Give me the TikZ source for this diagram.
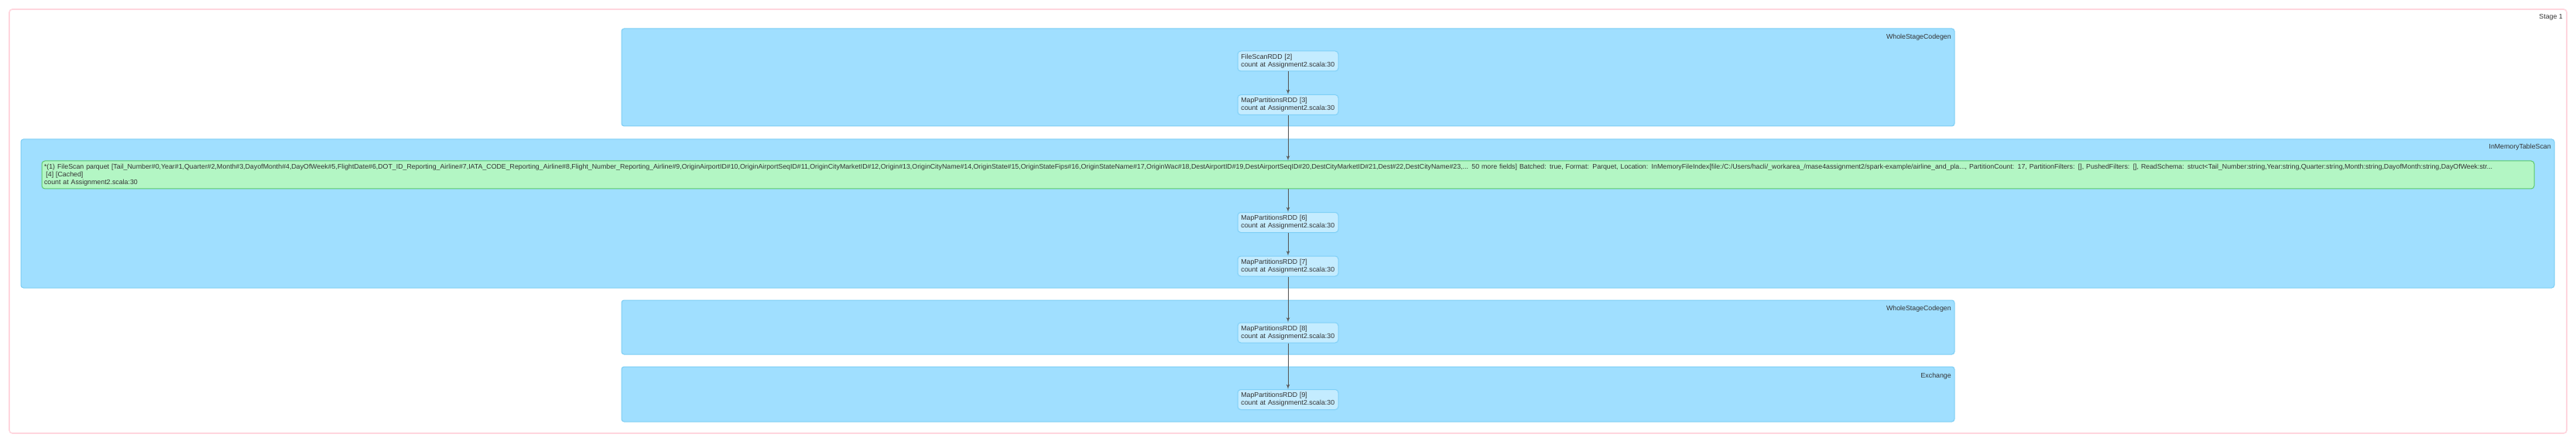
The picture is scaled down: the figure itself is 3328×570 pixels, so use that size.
\documentclass[tikz,border=0pt]{standalone}
\usepackage{fontspec}
\setmainfont{Liberation Sans}
\usetikzlibrary{positioning,arrows}

\definecolor{stageline}{HTML}{FFD6DE}
\definecolor{clusterfill}{HTML}{A0DFFF}
\definecolor{clusterline}{HTML}{7ECEF4}
\definecolor{rddfill}{HTML}{C4ECFF}
\definecolor{rddline}{HTML}{80D0F7}
\definecolor{cachedfill}{HTML}{B3F6C4}
\definecolor{cachedline}{HTML}{5DC86F}
\definecolor{labeltext}{HTML}{333333}

\begin{document}
\begin{tikzpicture}[x=0.75pt, y=-0.75pt]
		\tikzset{cluster/.style = {draw=clusterline, fill=clusterfill, line width=0.75pt, rounded corners=2.5pt}}
		\tikzset{boxlabel/.style = {anchor=east, inner sep=0pt, text=labeltext, font=\fontsize{6.6}{7.5}\selectfont}}
		\tikzset{rdd/.style = {draw=rddline, fill=rddfill, line width=0.75pt, rounded corners=3pt, text width=91pt, minimum height=19.5pt, inner xsep=3.25pt, inner ysep=0pt, align=left, text=labeltext, font=\fontsize{6.6}{7.5}\selectfont}}
		\tikzset{func/.style = {->, > = latex', draw=black!65, line width=0.6pt}}

		\useasboundingbox (0, 0) rectangle (3328, 570);

		% stage
		\draw[stageline, line width=1.2pt, rounded corners=3pt] (12, 12) rectangle (3316, 560);
		\node[boxlabel] (stage) at (3311, 22){Stage 1};

		% clusters
		\draw[cluster] (803, 37) rectangle (2525, 163);
		\node[boxlabel] (wsc1) at (2521, 48){WholeStageCodegen};

		\draw[cluster] (27, 180) rectangle (3300, 372);
		\node[boxlabel] (imts) at (3296, 190){InMemoryTableScan};

		\draw[cluster] (803, 388) rectangle (2525, 458);
		\node[boxlabel] (wsc2) at (2521, 399){WholeStageCodegen};

		\draw[cluster] (803, 474) rectangle (2525, 545);
		\node[boxlabel] (exch) at (2521, 486){Exchange};

		% rdds
		\node[rdd] (fs2) at (1664, 79){FileScanRDD [2]\\count at Assignment2.scala:30};
		\node[rdd] (mp3) at (1664, 135.5){MapPartitionsRDD [3]\\count at Assignment2.scala:30};

		\node[rdd, draw=cachedline, fill=cachedfill, text width=2410.5pt, inner xsep=2.25pt, minimum height=27pt] (scan4) at (1664, 226){\mbox{*(1) FileScan parquet [Tail\_Number\#0,Year\#1,Quarter\#2,Month\#3,DayofMonth\#4,DayOfWeek\#5,FlightDate\#6,DOT\_ID\_Reporting\_Airline\#7,IATA\_CODE\_Reporting\_Airline\#8,Flight\_Number\_Reporting\_Airline\#9,OriginAirportID\#10,OriginAirportSeqID\#11,OriginCityMarketID\#12,Origin\#13,OriginCityName\#14,OriginState\#15,OriginStateFips\#16,OriginStateName\#17,OriginWac\#18,DestAirportID\#19,DestAirportSeqID\#20,DestCityMarketID\#21,Dest\#22,DestCityName\#23,... 50 more fields] Batched: true, Format: Parquet, Location: InMemoryFileIndex[file:/C:/Users/hacli/\_workarea\_/mase4assignment2/spark-example/airline\_and\_pla..., PartitionCount: 17, PartitionFilters: [], PushedFilters: [], ReadSchema: struct<Tail\_Number:string,Year:string,Quarter:string,Month:string,DayofMonth:string,DayOfWeek:str...}\\\hspace*{0.28em}[4] [Cached]\\count at Assignment2.scala:30};

		\node[rdd] (mp6) at (1664, 287.5){MapPartitionsRDD [6]\\count at Assignment2.scala:30};
		\node[rdd] (mp7) at (1664, 344){MapPartitionsRDD [7]\\count at Assignment2.scala:30};
		\node[rdd] (mp8) at (1664, 430){MapPartitionsRDD [8]\\count at Assignment2.scala:30};
		\node[rdd] (mp9) at (1664, 516.5){MapPartitionsRDD [9]\\count at Assignment2.scala:30};

		% edges
		\draw[func] (fs2) -- (mp3);
		\draw[func] (mp3) -- (scan4);
		\draw[func] (scan4) -- (mp6);
		\draw[func] (mp6) -- (mp7);
		\draw[func] (mp7) -- (mp8);
		\draw[func] (mp8) -- (mp9);
	\end{tikzpicture}
\end{document}
